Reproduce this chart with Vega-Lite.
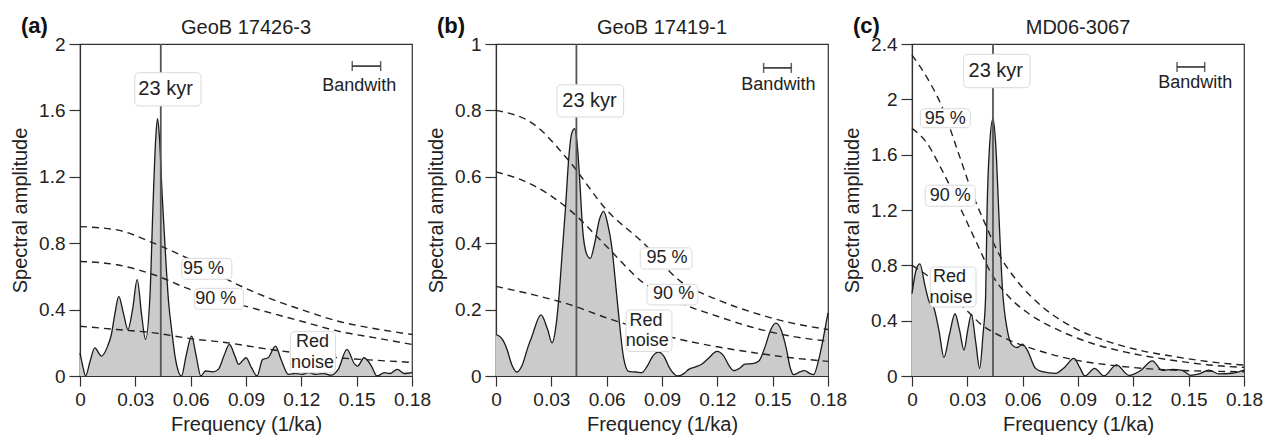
{
  "$schema": "https://vega.github.io/schema/vega-lite/v6.json",
  "background": "white",
  "padding": {"left": 9, "top": 14, "right": 5, "bottom": 3},
  "spacing": 84,
  "bounds": "flush",
  "config": {
    "font": "Liberation Sans",
    "view": {"stroke": "#333", "strokeWidth": 1.2},
    "axis": {"domainColor": "#333", "domainWidth": 1.2, "tickColor": "#333", "tickWidth": 1.2, "labelColor": "#222", "titleColor": "#222", "labelFontSize": 19, "titleFontSize": 20, "titleFontWeight": "normal", "labelFont": "Liberation Sans", "titleFont": "Liberation Sans", "grid": false, "labelOverlap": false, "labelFlush": false}
  },
  "datasets": {
    "spectrum": [
      {"panel":"a","freq":0,"amp":0.14},{"panel":"a","freq":0.0015,"amp":0.06},{"panel":"a","freq":0.003,"amp":0.0},{"panel":"a","freq":0.0055,"amp":0.09},{"panel":"a","freq":0.008,"amp":0.17},{"panel":"a","freq":0.0116,"amp":0.12},{"panel":"a","freq":0.015,"amp":0.18},{"panel":"a","freq":0.017,"amp":0.25},{"panel":"a","freq":0.019,"amp":0.38},{"panel":"a","freq":0.021,"amp":0.48},{"panel":"a","freq":0.0235,"amp":0.38},{"panel":"a","freq":0.026,"amp":0.28},{"panel":"a","freq":0.0285,"amp":0.4},{"panel":"a","freq":0.031,"amp":0.58},{"panel":"a","freq":0.0335,"amp":0.36},{"panel":"a","freq":0.0355,"amp":0.22},{"panel":"a","freq":0.038,"amp":0.5},{"panel":"a","freq":0.0395,"amp":1.0},{"panel":"a","freq":0.041,"amp":1.42},{"panel":"a","freq":0.042,"amp":1.55},{"panel":"a","freq":0.043,"amp":1.45},{"panel":"a","freq":0.0445,"amp":1.1},{"panel":"a","freq":0.046,"amp":0.8},{"panel":"a","freq":0.048,"amp":0.45},{"panel":"a","freq":0.05,"amp":0.25},{"panel":"a","freq":0.0515,"amp":0.12},{"panel":"a","freq":0.053,"amp":0.04},{"panel":"a","freq":0.055,"amp":0.0},{"panel":"a","freq":0.0575,"amp":0.12},{"panel":"a","freq":0.0605,"amp":0.24},{"panel":"a","freq":0.063,"amp":0.12},{"panel":"a","freq":0.0655,"amp":0.0},{"panel":"a","freq":0.068,"amp":0.03},{"panel":"a","freq":0.072,"amp":0.025},{"panel":"a","freq":0.075,"amp":0.04},{"panel":"a","freq":0.078,"amp":0.12},{"panel":"a","freq":0.081,"amp":0.19},{"panel":"a","freq":0.084,"amp":0.12},{"panel":"a","freq":0.086,"amp":0.07},{"panel":"a","freq":0.088,"amp":0.09},{"panel":"a","freq":0.09,"amp":0.11},{"panel":"a","freq":0.093,"amp":0.05},{"panel":"a","freq":0.096,"amp":0.0},{"panel":"a","freq":0.099,"amp":0.1},{"panel":"a","freq":0.102,"amp":0.11},{"panel":"a","freq":0.106,"amp":0.18},{"panel":"a","freq":0.109,"amp":0.1},{"panel":"a","freq":0.113,"amp":0.01},{"panel":"a","freq":0.117,"amp":0.015},{"panel":"a","freq":0.12,"amp":0.01},{"panel":"a","freq":0.124,"amp":0.02},{"panel":"a","freq":0.128,"amp":0.01},{"panel":"a","freq":0.132,"amp":0.015},{"panel":"a","freq":0.136,"amp":0.005},{"panel":"a","freq":0.14,"amp":0.04},{"panel":"a","freq":0.1447,"amp":0.16},{"panel":"a","freq":0.149,"amp":0.07},{"panel":"a","freq":0.1505,"amp":0.06},{"panel":"a","freq":0.154,"amp":0.11},{"panel":"a","freq":0.158,"amp":0.06},{"panel":"a","freq":0.161,"amp":0.0},{"panel":"a","freq":0.165,"amp":0.02},{"panel":"a","freq":0.168,"amp":0.015},{"panel":"a","freq":0.172,"amp":0.04},{"panel":"a","freq":0.176,"amp":0.015},{"panel":"a","freq":0.18,"amp":0.02},
      {"panel":"b","freq":0,"amp":0.125},{"panel":"b","freq":0.003,"amp":0.114},{"panel":"b","freq":0.006,"amp":0.08},{"panel":"b","freq":0.0085,"amp":0.035},{"panel":"b","freq":0.0114,"amp":0.012},{"panel":"b","freq":0.014,"amp":0.03},{"panel":"b","freq":0.0175,"amp":0.09},{"panel":"b","freq":0.0195,"amp":0.12},{"panel":"b","freq":0.0244,"amp":0.184},{"panel":"b","freq":0.028,"amp":0.14},{"panel":"b","freq":0.0304,"amp":0.1},{"panel":"b","freq":0.0325,"amp":0.15},{"panel":"b","freq":0.034,"amp":0.23},{"panel":"b","freq":0.036,"amp":0.38},{"panel":"b","freq":0.0376,"amp":0.5},{"panel":"b","freq":0.0395,"amp":0.66},{"panel":"b","freq":0.041,"amp":0.73},{"panel":"b","freq":0.0427,"amp":0.745},{"panel":"b","freq":0.044,"amp":0.7},{"panel":"b","freq":0.0455,"amp":0.58},{"panel":"b","freq":0.047,"amp":0.44},{"panel":"b","freq":0.049,"amp":0.37},{"panel":"b","freq":0.0511,"amp":0.354},{"panel":"b","freq":0.0535,"amp":0.4},{"panel":"b","freq":0.056,"amp":0.47},{"panel":"b","freq":0.0584,"amp":0.496},{"panel":"b","freq":0.0605,"amp":0.46},{"panel":"b","freq":0.0629,"amp":0.384},{"panel":"b","freq":0.0648,"amp":0.28},{"panel":"b","freq":0.0665,"amp":0.184},{"panel":"b","freq":0.0692,"amp":0.054},{"panel":"b","freq":0.0719,"amp":0.014},{"panel":"b","freq":0.076,"amp":0.012},{"panel":"b","freq":0.079,"amp":0.01},{"panel":"b","freq":0.082,"amp":0.03},{"panel":"b","freq":0.085,"amp":0.06},{"panel":"b","freq":0.088,"amp":0.072},{"panel":"b","freq":0.091,"amp":0.06},{"panel":"b","freq":0.094,"amp":0.025},{"panel":"b","freq":0.097,"amp":0.004},{"panel":"b","freq":0.099,"amp":0.0},{"panel":"b","freq":0.102,"amp":0.008},{"panel":"b","freq":0.1045,"amp":0.02},{"panel":"b","freq":0.1085,"amp":0.028},{"panel":"b","freq":0.1117,"amp":0.036},{"panel":"b","freq":0.1155,"amp":0.055},{"panel":"b","freq":0.1198,"amp":0.074},{"panel":"b","freq":0.1235,"amp":0.06},{"panel":"b","freq":0.1265,"amp":0.03},{"panel":"b","freq":0.1289,"amp":0.016},{"panel":"b","freq":0.1325,"amp":0.025},{"panel":"b","freq":0.135,"amp":0.036},{"panel":"b","freq":0.139,"amp":0.037},{"panel":"b","freq":0.1425,"amp":0.045},{"panel":"b","freq":0.146,"amp":0.09},{"panel":"b","freq":0.149,"amp":0.14},{"panel":"b","freq":0.1518,"amp":0.159},{"panel":"b","freq":0.1545,"amp":0.14},{"panel":"b","freq":0.1575,"amp":0.08},{"panel":"b","freq":0.1595,"amp":0.025},{"panel":"b","freq":0.1614,"amp":0.004},{"panel":"b","freq":0.1645,"amp":0.012},{"panel":"b","freq":0.1674,"amp":0.016},{"panel":"b","freq":0.17,"amp":0.008},{"panel":"b","freq":0.1722,"amp":0.004},{"panel":"b","freq":0.175,"amp":0.05},{"panel":"b","freq":0.178,"amp":0.13},{"panel":"b","freq":0.18,"amp":0.19},
      {"panel":"c","freq":0,"amp":0.595},{"panel":"c","freq":0.0023,"amp":0.77},{"panel":"c","freq":0.0043,"amp":0.81},{"panel":"c","freq":0.007,"amp":0.655},{"panel":"c","freq":0.0096,"amp":0.53},{"panel":"c","freq":0.011,"amp":0.52},{"panel":"c","freq":0.0146,"amp":0.33},{"panel":"c","freq":0.0173,"amp":0.134},{"panel":"c","freq":0.0203,"amp":0.3},{"panel":"c","freq":0.0233,"amp":0.45},{"panel":"c","freq":0.0258,"amp":0.33},{"panel":"c","freq":0.0282,"amp":0.187},{"panel":"c","freq":0.0302,"amp":0.33},{"panel":"c","freq":0.0322,"amp":0.446},{"panel":"c","freq":0.0345,"amp":0.25},{"panel":"c","freq":0.0367,"amp":0.055},{"panel":"c","freq":0.0385,"amp":0.3},{"panel":"c","freq":0.0399,"amp":0.57},{"panel":"c","freq":0.0407,"amp":1.2},{"panel":"c","freq":0.042,"amp":1.65},{"panel":"c","freq":0.0439,"amp":1.86},{"panel":"c","freq":0.0455,"amp":1.65},{"panel":"c","freq":0.047,"amp":1.2},{"panel":"c","freq":0.049,"amp":0.64},{"panel":"c","freq":0.0517,"amp":0.33},{"panel":"c","freq":0.0544,"amp":0.223},{"panel":"c","freq":0.0571,"amp":0.206},{"panel":"c","freq":0.0598,"amp":0.23},{"panel":"c","freq":0.0625,"amp":0.187},{"panel":"c","freq":0.067,"amp":0.055},{"panel":"c","freq":0.0707,"amp":0.031},{"panel":"c","freq":0.0779,"amp":0.019},{"panel":"c","freq":0.0825,"amp":0.06},{"panel":"c","freq":0.0878,"amp":0.127},{"panel":"c","freq":0.091,"amp":0.06},{"panel":"c","freq":0.0938,"amp":0.0},{"panel":"c","freq":0.099,"amp":0.055},{"panel":"c","freq":0.1041,"amp":0.0},{"panel":"c","freq":0.1108,"amp":0.08},{"panel":"c","freq":0.1177,"amp":0.005},{"panel":"c","freq":0.124,"amp":0.04},{"panel":"c","freq":0.1303,"amp":0.11},{"panel":"c","freq":0.1357,"amp":0.04},{"panel":"c","freq":0.1412,"amp":0.048},{"panel":"c","freq":0.1466,"amp":0.04},{"panel":"c","freq":0.151,"amp":0.005},{"panel":"c","freq":0.1556,"amp":0.015},{"panel":"c","freq":0.161,"amp":0.043},{"panel":"c","freq":0.1665,"amp":0.015},{"panel":"c","freq":0.1735,"amp":0.02},{"panel":"c","freq":0.18,"amp":0.043}
    ],
    "levels": [
      {"panel":"a","level":"95","freq":0,"amp":0.9},{"panel":"a","level":"95","freq":0.02,"amp":0.88},{"panel":"a","level":"95","freq":0.04,"amp":0.8},{"panel":"a","level":"95","freq":0.06,"amp":0.7},{"panel":"a","level":"95","freq":0.08,"amp":0.58},{"panel":"a","level":"95","freq":0.1,"amp":0.48},{"panel":"a","level":"95","freq":0.12,"amp":0.4},{"panel":"a","level":"95","freq":0.14,"amp":0.33},{"panel":"a","level":"95","freq":0.16,"amp":0.285},{"panel":"a","level":"95","freq":0.18,"amp":0.25},
      {"panel":"a","level":"90","freq":0,"amp":0.69},{"panel":"a","level":"90","freq":0.02,"amp":0.67},{"panel":"a","level":"90","freq":0.04,"amp":0.61},{"panel":"a","level":"90","freq":0.06,"amp":0.52},{"panel":"a","level":"90","freq":0.08,"amp":0.45},{"panel":"a","level":"90","freq":0.1,"amp":0.39},{"panel":"a","level":"90","freq":0.12,"amp":0.33},{"panel":"a","level":"90","freq":0.14,"amp":0.27},{"panel":"a","level":"90","freq":0.16,"amp":0.23},{"panel":"a","level":"90","freq":0.18,"amp":0.19},
      {"panel":"a","level":"red","freq":0,"amp":0.3},{"panel":"a","level":"red","freq":0.02,"amp":0.28},{"panel":"a","level":"red","freq":0.04,"amp":0.26},{"panel":"a","level":"red","freq":0.06,"amp":0.225},{"panel":"a","level":"red","freq":0.08,"amp":0.2},{"panel":"a","level":"red","freq":0.1,"amp":0.165},{"panel":"a","level":"red","freq":0.12,"amp":0.135},{"panel":"a","level":"red","freq":0.14,"amp":0.11},{"panel":"a","level":"red","freq":0.16,"amp":0.095},{"panel":"a","level":"red","freq":0.18,"amp":0.082},
      {"panel":"b","level":"95","freq":0,"amp":0.8},{"panel":"b","level":"95","freq":0.02,"amp":0.76},{"panel":"b","level":"95","freq":0.04,"amp":0.645},{"panel":"b","level":"95","freq":0.06,"amp":0.5},{"panel":"b","level":"95","freq":0.08,"amp":0.4},{"panel":"b","level":"95","freq":0.1,"amp":0.285},{"panel":"b","level":"95","freq":0.12,"amp":0.23},{"panel":"b","level":"95","freq":0.14,"amp":0.19},{"panel":"b","level":"95","freq":0.16,"amp":0.16},{"panel":"b","level":"95","freq":0.18,"amp":0.14},
      {"panel":"b","level":"90","freq":0,"amp":0.615},{"panel":"b","level":"90","freq":0.02,"amp":0.575},{"panel":"b","level":"90","freq":0.04,"amp":0.5},{"panel":"b","level":"90","freq":0.06,"amp":0.39},{"panel":"b","level":"90","freq":0.08,"amp":0.28},{"panel":"b","level":"90","freq":0.1,"amp":0.22},{"panel":"b","level":"90","freq":0.12,"amp":0.18},{"panel":"b","level":"90","freq":0.14,"amp":0.145},{"panel":"b","level":"90","freq":0.16,"amp":0.12},{"panel":"b","level":"90","freq":0.18,"amp":0.105},
      {"panel":"b","level":"red","freq":0,"amp":0.27},{"panel":"b","level":"red","freq":0.02,"amp":0.245},{"panel":"b","level":"red","freq":0.04,"amp":0.215},{"panel":"b","level":"red","freq":0.06,"amp":0.175},{"panel":"b","level":"red","freq":0.08,"amp":0.14},{"panel":"b","level":"red","freq":0.1,"amp":0.11},{"panel":"b","level":"red","freq":0.12,"amp":0.088},{"panel":"b","level":"red","freq":0.14,"amp":0.07},{"panel":"b","level":"red","freq":0.16,"amp":0.055},{"panel":"b","level":"red","freq":0.18,"amp":0.044},
      {"panel":"c","level":"95","freq":0,"amp":2.32},{"panel":"c","level":"95","freq":0.008,"amp":2.16},{"panel":"c","level":"95","freq":0.0163,"amp":1.945},{"panel":"c","level":"95","freq":0.0253,"amp":1.607},{"panel":"c","level":"95","freq":0.0336,"amp":1.29},{"panel":"c","level":"95","freq":0.04,"amp":1.09},{"panel":"c","level":"95","freq":0.0472,"amp":0.88},{"panel":"c","level":"95","freq":0.0562,"amp":0.7},{"panel":"c","level":"95","freq":0.0707,"amp":0.5},{"panel":"c","level":"95","freq":0.0887,"amp":0.343},{"panel":"c","level":"95","freq":0.1068,"amp":0.247},{"panel":"c","level":"95","freq":0.1249,"amp":0.182},{"panel":"c","level":"95","freq":0.143,"amp":0.139},{"panel":"c","level":"95","freq":0.161,"amp":0.103},{"panel":"c","level":"95","freq":0.18,"amp":0.079},
      {"panel":"c","level":"90","freq":0,"amp":1.79},{"panel":"c","level":"90","freq":0.0072,"amp":1.7},{"panel":"c","level":"90","freq":0.0163,"amp":1.487},{"panel":"c","level":"90","freq":0.026,"amp":1.22},{"panel":"c","level":"90","freq":0.0345,"amp":0.978},{"panel":"c","level":"90","freq":0.0436,"amp":0.727},{"panel":"c","level":"90","freq":0.0526,"amp":0.571},{"panel":"c","level":"90","freq":0.0634,"amp":0.45},{"panel":"c","level":"90","freq":0.0797,"amp":0.33},{"panel":"c","level":"90","freq":0.0978,"amp":0.235},{"panel":"c","level":"90","freq":0.1158,"amp":0.173},{"panel":"c","level":"90","freq":0.143,"amp":0.11},{"panel":"c","level":"90","freq":0.161,"amp":0.08},{"panel":"c","level":"90","freq":0.18,"amp":0.062},
      {"panel":"c","level":"red","freq":0,"amp":0.8},{"panel":"c","level":"red","freq":0.01,"amp":0.71},{"panel":"c","level":"red","freq":0.02,"amp":0.6},{"panel":"c","level":"red","freq":0.03,"amp":0.47},{"panel":"c","level":"red","freq":0.038,"amp":0.367},{"panel":"c","level":"red","freq":0.045,"amp":0.31},{"panel":"c","level":"red","freq":0.0526,"amp":0.26},{"panel":"c","level":"red","freq":0.0707,"amp":0.175},{"panel":"c","level":"red","freq":0.0887,"amp":0.115},{"panel":"c","level":"red","freq":0.1068,"amp":0.08},{"panel":"c","level":"red","freq":0.14,"amp":0.043},{"panel":"c","level":"red","freq":0.18,"amp":0.031}
    ],
    "lines": [
      {"panel":"a","freq":0.0438},{"panel":"b","freq":0.0436},{"panel":"c","freq":0.0439}
    ],
    "boxes": [
      {"panel":"a","f1":0.0297,"f2":0.0656,"a1":1.627,"a2":1.827},
      {"panel":"a","f1":0.0551,"f2":0.0823,"a1":0.583,"a2":0.709},
      {"panel":"a","f1":0.062,"f2":0.0886,"a1":0.402,"a2":0.528},
      {"panel":"a","f1":0.114,"f2":0.1385,"a1":0.02,"a2":0.267},
      {"panel":"b","f1":0.0331,"f2":0.0692,"a1":0.78,"a2":0.877},
      {"panel":"b","f1":0.0782,"f2":0.1063,"a1":0.322,"a2":0.386},
      {"panel":"b","f1":0.0819,"f2":0.1095,"a1":0.214,"a2":0.276},
      {"panel":"b","f1":0.0705,"f2":0.0954,"a1":0.074,"a2":0.199},
      {"panel":"c","f1":0.028,"f2":0.064,"a1":2.084,"a2":2.326},
      {"panel":"c","f1":0.0045,"f2":0.0316,"a1":1.795,"a2":1.932},
      {"panel":"c","f1":0.0072,"f2":0.0343,"a1":1.227,"a2":1.379},
      {"panel":"c","f1":0.0099,"f2":0.0347,"a1":0.499,"a2":0.788}
    ],
    "labels": [
      {"panel":"a","kind":"peak","text":"23 kyr","freq":0.0464,"amp":1.73},
      {"panel":"a","kind":"note","text":"95 %","freq":0.0669,"amp":0.643},
      {"panel":"a","kind":"note","text":"90 %","freq":0.0736,"amp":0.462},
      {"panel":"a","kind":"note","text":"Red","freq":0.1261,"amp":0.207},
      {"panel":"a","kind":"note","text":"noise","freq":0.1261,"amp":0.08},
      {"panel":"a","kind":"note","text":"Bandwith","freq":0.1514,"amp":1.744},
      {"panel":"a","kind":"letter","text":"(a)","freq":0,"amp":2},
      {"panel":"a","kind":"name","text":"GeoB 17426-3","freq":0.09,"amp":2},
      {"panel":"b","kind":"peak","text":"23 kyr","freq":0.0507,"amp":0.827},
      {"panel":"b","kind":"note","text":"95 %","freq":0.0927,"amp":0.354},
      {"panel":"b","kind":"note","text":"90 %","freq":0.0963,"amp":0.246},
      {"panel":"b","kind":"note","text":"Red","freq":0.0813,"amp":0.166},
      {"panel":"b","kind":"note","text":"noise","freq":0.082,"amp":0.106},
      {"panel":"b","kind":"note","text":"Bandwith","freq":0.1531,"amp":0.877},
      {"panel":"b","kind":"letter","text":"(b)","freq":0,"amp":1},
      {"panel":"b","kind":"name","text":"GeoB 17419-1","freq":0.09,"amp":1},
      {"panel":"c","kind":"peak","text":"23 kyr","freq":0.0454,"amp":2.205},
      {"panel":"c","kind":"note","text":"95 %","freq":0.018,"amp":1.86},
      {"panel":"c","kind":"note","text":"90 %","freq":0.0208,"amp":1.299},
      {"panel":"c","kind":"note","text":"Red","freq":0.0203,"amp":0.716},
      {"panel":"c","kind":"note","text":"noise","freq":0.0212,"amp":0.566},
      {"panel":"c","kind":"note","text":"Bandwith","freq":0.1536,"amp":2.118},
      {"panel":"c","kind":"letter","text":"(c)","freq":0,"amp":2.4},
      {"panel":"c","kind":"name","text":"MD06-3067","freq":0.09,"amp":2.4}
    ],
    "bands": [
      {"panel":"a","f1":0.1476,"f2":0.163,"amp":1.867},
      {"panel":"b","f1":0.1451,"f2":0.1601,"amp":0.928},
      {"panel":"c","f1":0.1437,"f2":0.1587,"amp":2.234}
    ]
  },
  "hconcat": [
    {
      "width": 332, "height": 332,
      "layer": [
        {"data": {"name": "spectrum"}, "transform": [{"filter": "datum.panel === 'a'"}],
         "mark": {"type": "area", "interpolate": "monotone", "color": "#cbcbcb", "opacity": 1, "line": {"color": "#1a1a1a", "strokeWidth": 1.3}},
         "encoding": {
           "x": {"field": "freq", "type": "quantitative", "scale": {"domain": [0, 0.18], "nice": false},
                 "axis": {"title": "Frequency (1/ka)", "values": [0,0.015,0.03,0.045,0.06,0.075,0.09,0.105,0.12,0.135,0.15,0.165,0.18], "labelExpr": "abs(datum.value/0.03 - round(datum.value/0.03)) < 0.001 ? format(datum.value, '~g') : ''", "tickSize": {"condition": {"test": "abs(datum.value/0.03 - round(datum.value/0.03)) < 0.001", "value": 10}, "value": 6}, "labelPadding": 4, "titlePadding": 5}},
           "y": {"field": "amp", "type": "quantitative", "scale": {"domain": [0, 2], "nice": false},
                 "axis": {"title": "Spectral amplitude", "values": [0,0.2,0.4,0.6,0.8,1,1.2,1.4,1.6,1.8,2], "labelExpr": "abs(datum.value/0.4 - round(datum.value/0.4)) < 0.001 ? format(datum.value, '~g') : ''", "tickSize": {"condition": {"test": "abs(datum.value/0.4 - round(datum.value/0.4)) < 0.001", "value": 11}, "value": 6}, "labelPadding": 4, "titlePadding": 8}}
         }},
        {"data": {"name": "levels"}, "transform": [{"filter": "datum.panel === 'a'"}],
         "mark": {"type": "line", "interpolate": "monotone", "color": "#222", "strokeWidth": 1.4, "strokeDash": [7, 5]},
         "encoding": {"x": {"field": "freq", "type": "quantitative"}, "y": {"field": "amp", "type": "quantitative"}, "detail": {"field": "level"}}},
        {"data": {"name": "lines"}, "transform": [{"filter": "datum.panel === 'a'"}],
         "mark": {"type": "rule", "color": "#555", "strokeWidth": 1.8},
         "encoding": {"x": {"field": "freq", "type": "quantitative"}}},
        {"data": {"name": "boxes"}, "transform": [{"filter": "datum.panel === 'a'"}],
         "mark": {"type": "rect", "fill": "white", "stroke": "#dadada", "strokeWidth": 1, "cornerRadius": 4},
         "encoding": {"x": {"field": "f1", "type": "quantitative"}, "x2": {"field": "f2"}, "y": {"field": "a1", "type": "quantitative"}, "y2": {"field": "a2"}}},
        {"data": {"name": "labels"}, "transform": [{"filter": "datum.panel === 'a' && datum.kind === 'peak'"}],
         "mark": {"type": "text", "fontSize": 20, "color": "#222", "baseline": "middle"},
         "encoding": {"x": {"field": "freq", "type": "quantitative"}, "y": {"field": "amp", "type": "quantitative"}, "text": {"field": "text"}}},
        {"data": {"name": "labels"}, "transform": [{"filter": "datum.panel === 'a' && datum.kind === 'note'"}],
         "mark": {"type": "text", "fontSize": 18, "color": "#222", "baseline": "middle"},
         "encoding": {"x": {"field": "freq", "type": "quantitative"}, "y": {"field": "amp", "type": "quantitative"}, "text": {"field": "text"}}},
        {"data": {"name": "bands"}, "transform": [{"filter": "datum.panel === 'a'"}],
         "mark": {"type": "rule", "color": "#222", "strokeWidth": 1.5},
         "encoding": {"x": {"field": "f1", "type": "quantitative"}, "x2": {"field": "f2"}, "y": {"field": "amp", "type": "quantitative"}}},
        {"data": {"name": "bands"}, "transform": [{"filter": "datum.panel === 'a'"}, {"fold": ["f1", "f2"], "as": ["end", "fpos"]}],
         "mark": {"type": "tick", "orient": "vertical", "size": 10, "thickness": 1.5, "color": "#222"},
         "encoding": {"x": {"field": "fpos", "type": "quantitative"}, "y": {"field": "amp", "type": "quantitative"}}},
        {"data": {"name": "labels"}, "transform": [{"filter": "datum.panel === 'a' && datum.kind === 'letter'"}],
         "mark": {"type": "text", "fontSize": 22, "fontWeight": "bold", "color": "#111", "align": "left", "baseline": "alphabetic", "dx": -59, "dy": -11},
         "encoding": {"x": {"field": "freq", "type": "quantitative"}, "y": {"field": "amp", "type": "quantitative"}, "text": {"field": "text"}}},
        {"data": {"name": "labels"}, "transform": [{"filter": "datum.panel === 'a' && datum.kind === 'name'"}],
         "mark": {"type": "text", "fontSize": 20, "color": "#222", "align": "center", "baseline": "alphabetic", "dy": -10},
         "encoding": {"x": {"field": "freq", "type": "quantitative"}, "y": {"field": "amp", "type": "quantitative"}, "text": {"field": "text"}}}
      ]
    },
    {
      "width": 332, "height": 332,
      "layer": [
        {"data": {"name": "spectrum"}, "transform": [{"filter": "datum.panel === 'b'"}],
         "mark": {"type": "area", "interpolate": "monotone", "color": "#cbcbcb", "opacity": 1, "line": {"color": "#1a1a1a", "strokeWidth": 1.3}},
         "encoding": {
           "x": {"field": "freq", "type": "quantitative", "scale": {"domain": [0, 0.18], "nice": false},
                 "axis": {"title": "Frequency (1/ka)", "values": [0,0.015,0.03,0.045,0.06,0.075,0.09,0.105,0.12,0.135,0.15,0.165,0.18], "labelExpr": "abs(datum.value/0.03 - round(datum.value/0.03)) < 0.001 ? format(datum.value, '~g') : ''", "tickSize": {"condition": {"test": "abs(datum.value/0.03 - round(datum.value/0.03)) < 0.001", "value": 10}, "value": 6}, "labelPadding": 4, "titlePadding": 5}},
           "y": {"field": "amp", "type": "quantitative", "scale": {"domain": [0, 1], "nice": false},
                 "axis": {"title": "Spectral amplitude", "values": [0,0.1,0.2,0.3,0.4,0.5,0.6,0.7,0.8,0.9,1], "labelExpr": "abs(datum.value/0.2 - round(datum.value/0.2)) < 0.001 ? format(datum.value, '~g') : ''", "tickSize": {"condition": {"test": "abs(datum.value/0.2 - round(datum.value/0.2)) < 0.001", "value": 11}, "value": 6}, "labelPadding": 4, "titlePadding": 8}}
         }},
        {"data": {"name": "levels"}, "transform": [{"filter": "datum.panel === 'b'"}],
         "mark": {"type": "line", "interpolate": "monotone", "color": "#222", "strokeWidth": 1.4, "strokeDash": [7, 5]},
         "encoding": {"x": {"field": "freq", "type": "quantitative"}, "y": {"field": "amp", "type": "quantitative"}, "detail": {"field": "level"}}},
        {"data": {"name": "lines"}, "transform": [{"filter": "datum.panel === 'b'"}],
         "mark": {"type": "rule", "color": "#555", "strokeWidth": 1.8},
         "encoding": {"x": {"field": "freq", "type": "quantitative"}}},
        {"data": {"name": "boxes"}, "transform": [{"filter": "datum.panel === 'b'"}],
         "mark": {"type": "rect", "fill": "white", "stroke": "#dadada", "strokeWidth": 1, "cornerRadius": 4},
         "encoding": {"x": {"field": "f1", "type": "quantitative"}, "x2": {"field": "f2"}, "y": {"field": "a1", "type": "quantitative"}, "y2": {"field": "a2"}}},
        {"data": {"name": "labels"}, "transform": [{"filter": "datum.panel === 'b' && datum.kind === 'peak'"}],
         "mark": {"type": "text", "fontSize": 20, "color": "#222", "baseline": "middle"},
         "encoding": {"x": {"field": "freq", "type": "quantitative"}, "y": {"field": "amp", "type": "quantitative"}, "text": {"field": "text"}}},
        {"data": {"name": "labels"}, "transform": [{"filter": "datum.panel === 'b' && datum.kind === 'note'"}],
         "mark": {"type": "text", "fontSize": 18, "color": "#222", "baseline": "middle"},
         "encoding": {"x": {"field": "freq", "type": "quantitative"}, "y": {"field": "amp", "type": "quantitative"}, "text": {"field": "text"}}},
        {"data": {"name": "bands"}, "transform": [{"filter": "datum.panel === 'b'"}],
         "mark": {"type": "rule", "color": "#222", "strokeWidth": 1.5},
         "encoding": {"x": {"field": "f1", "type": "quantitative"}, "x2": {"field": "f2"}, "y": {"field": "amp", "type": "quantitative"}}},
        {"data": {"name": "bands"}, "transform": [{"filter": "datum.panel === 'b'"}, {"fold": ["f1", "f2"], "as": ["end", "fpos"]}],
         "mark": {"type": "tick", "orient": "vertical", "size": 10, "thickness": 1.5, "color": "#222"},
         "encoding": {"x": {"field": "fpos", "type": "quantitative"}, "y": {"field": "amp", "type": "quantitative"}}},
        {"data": {"name": "labels"}, "transform": [{"filter": "datum.panel === 'b' && datum.kind === 'letter'"}],
         "mark": {"type": "text", "fontSize": 22, "fontWeight": "bold", "color": "#111", "align": "left", "baseline": "alphabetic", "dx": -59, "dy": -11},
         "encoding": {"x": {"field": "freq", "type": "quantitative"}, "y": {"field": "amp", "type": "quantitative"}, "text": {"field": "text"}}},
        {"data": {"name": "labels"}, "transform": [{"filter": "datum.panel === 'b' && datum.kind === 'name'"}],
         "mark": {"type": "text", "fontSize": 20, "color": "#222", "align": "center", "baseline": "alphabetic", "dy": -10},
         "encoding": {"x": {"field": "freq", "type": "quantitative"}, "y": {"field": "amp", "type": "quantitative"}, "text": {"field": "text"}}}
      ]
    },
    {
      "width": 332, "height": 332,
      "layer": [
        {"data": {"name": "spectrum"}, "transform": [{"filter": "datum.panel === 'c'"}],
         "mark": {"type": "area", "interpolate": "monotone", "color": "#cbcbcb", "opacity": 1, "line": {"color": "#1a1a1a", "strokeWidth": 1.3}},
         "encoding": {
           "x": {"field": "freq", "type": "quantitative", "scale": {"domain": [0, 0.18], "nice": false},
                 "axis": {"title": "Frequency (1/ka)", "values": [0,0.015,0.03,0.045,0.06,0.075,0.09,0.105,0.12,0.135,0.15,0.165,0.18], "labelExpr": "abs(datum.value/0.03 - round(datum.value/0.03)) < 0.001 ? format(datum.value, '~g') : ''", "tickSize": {"condition": {"test": "abs(datum.value/0.03 - round(datum.value/0.03)) < 0.001", "value": 10}, "value": 6}, "labelPadding": 4, "titlePadding": 5}},
           "y": {"field": "amp", "type": "quantitative", "scale": {"domain": [0, 2.4], "nice": false},
                 "axis": {"title": "Spectral amplitude", "values": [0,0.2,0.4,0.6,0.8,1,1.2,1.4,1.6,1.8,2,2.2,2.4], "labelExpr": "abs(datum.value/0.4 - round(datum.value/0.4)) < 0.001 ? format(datum.value, '~g') : ''", "tickSize": {"condition": {"test": "abs(datum.value/0.4 - round(datum.value/0.4)) < 0.001", "value": 11}, "value": 6}, "labelPadding": 4, "titlePadding": 8}}
         }},
        {"data": {"name": "levels"}, "transform": [{"filter": "datum.panel === 'c'"}],
         "mark": {"type": "line", "interpolate": "monotone", "color": "#222", "strokeWidth": 1.4, "strokeDash": [7, 5]},
         "encoding": {"x": {"field": "freq", "type": "quantitative"}, "y": {"field": "amp", "type": "quantitative"}, "detail": {"field": "level"}}},
        {"data": {"name": "lines"}, "transform": [{"filter": "datum.panel === 'c'"}],
         "mark": {"type": "rule", "color": "#555", "strokeWidth": 1.8},
         "encoding": {"x": {"field": "freq", "type": "quantitative"}}},
        {"data": {"name": "boxes"}, "transform": [{"filter": "datum.panel === 'c'"}],
         "mark": {"type": "rect", "fill": "white", "stroke": "#dadada", "strokeWidth": 1, "cornerRadius": 4},
         "encoding": {"x": {"field": "f1", "type": "quantitative"}, "x2": {"field": "f2"}, "y": {"field": "a1", "type": "quantitative"}, "y2": {"field": "a2"}}},
        {"data": {"name": "labels"}, "transform": [{"filter": "datum.panel === 'c' && datum.kind === 'peak'"}],
         "mark": {"type": "text", "fontSize": 20, "color": "#222", "baseline": "middle"},
         "encoding": {"x": {"field": "freq", "type": "quantitative"}, "y": {"field": "amp", "type": "quantitative"}, "text": {"field": "text"}}},
        {"data": {"name": "labels"}, "transform": [{"filter": "datum.panel === 'c' && datum.kind === 'note'"}],
         "mark": {"type": "text", "fontSize": 18, "color": "#222", "baseline": "middle"},
         "encoding": {"x": {"field": "freq", "type": "quantitative"}, "y": {"field": "amp", "type": "quantitative"}, "text": {"field": "text"}}},
        {"data": {"name": "bands"}, "transform": [{"filter": "datum.panel === 'c'"}],
         "mark": {"type": "rule", "color": "#222", "strokeWidth": 1.5},
         "encoding": {"x": {"field": "f1", "type": "quantitative"}, "x2": {"field": "f2"}, "y": {"field": "amp", "type": "quantitative"}}},
        {"data": {"name": "bands"}, "transform": [{"filter": "datum.panel === 'c'"}, {"fold": ["f1", "f2"], "as": ["end", "fpos"]}],
         "mark": {"type": "tick", "orient": "vertical", "size": 10, "thickness": 1.5, "color": "#222"},
         "encoding": {"x": {"field": "fpos", "type": "quantitative"}, "y": {"field": "amp", "type": "quantitative"}}},
        {"data": {"name": "labels"}, "transform": [{"filter": "datum.panel === 'c' && datum.kind === 'letter'"}],
         "mark": {"type": "text", "fontSize": 22, "fontWeight": "bold", "color": "#111", "align": "left", "baseline": "alphabetic", "dx": -59, "dy": -11},
         "encoding": {"x": {"field": "freq", "type": "quantitative"}, "y": {"field": "amp", "type": "quantitative"}, "text": {"field": "text"}}},
        {"data": {"name": "labels"}, "transform": [{"filter": "datum.panel === 'c' && datum.kind === 'name'"}],
         "mark": {"type": "text", "fontSize": 20, "color": "#222", "align": "center", "baseline": "alphabetic", "dy": -10},
         "encoding": {"x": {"field": "freq", "type": "quantitative"}, "y": {"field": "amp", "type": "quantitative"}, "text": {"field": "text"}}}
      ]
    }
  ]
}
